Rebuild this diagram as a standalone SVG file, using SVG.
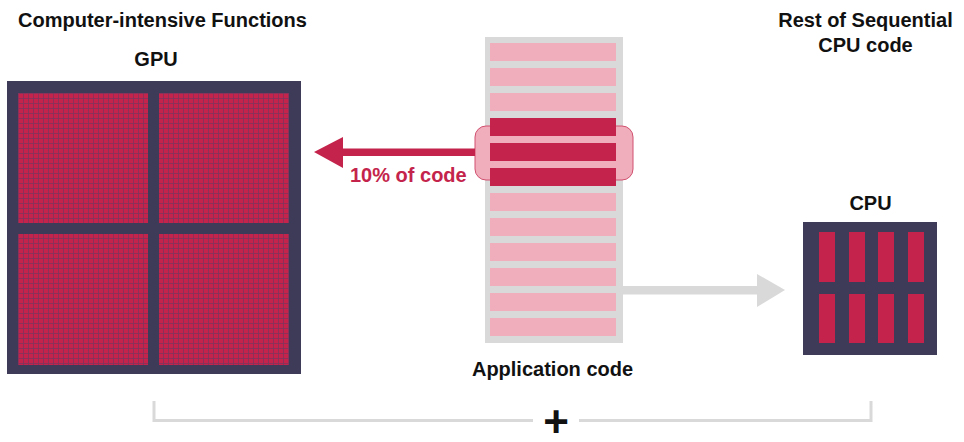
<svg xmlns="http://www.w3.org/2000/svg" width="964" height="442" viewBox="0 0 964 442">
<defs>
<style>
.lbl{font-family:"Liberation Sans",Arial,sans-serif;font-weight:bold;font-size:20px;fill:#111;}
.red{fill:#c4244b;}
.pink{fill:#f0aebd;}
.dark{fill:#3d3b58;}
</style>
<pattern id="grid" x="18" y="93" width="5" height="5" patternUnits="userSpaceOnUse">
<rect width="5" height="5" fill="#c4244b"/>
<path d="M0 0.5H5M0.5 0V5" stroke="#7a3560" stroke-width="1" fill="none" opacity="0.7"/>
</pattern>
</defs>
<rect width="964" height="442" fill="#fff"/>

<g id="gpu">
<rect class="dark" x="7" y="81" width="294" height="293"/>
<rect x="18" y="93" width="130" height="130" fill="url(#grid)"/>
<rect x="159" y="93" width="130" height="130" fill="url(#grid)"/>
<rect x="18" y="234" width="130" height="131" fill="url(#grid)"/>
<rect x="159" y="234" width="130" height="131" fill="url(#grid)"/>
<text class="lbl" x="18" y="26.5">Computer-intensive Functions</text>
<text class="lbl" x="156" y="66" text-anchor="middle">GPU</text>
</g>

<g id="app-code">
<rect x="485" y="37" width="138" height="306" fill="#d9d9d9"/>
<rect class="pink" x="490" y="43" width="126" height="18"/>
<rect class="pink" x="490" y="68" width="126" height="18"/>
<rect class="pink" x="490" y="93" width="126" height="18"/>
<rect x="475" y="126" width="158" height="54" rx="11" fill="#f0aebd" stroke="#d0506f" stroke-width="1"/>
<rect class="red" x="490" y="118" width="126" height="18"/>
<rect class="red" x="490" y="143" width="126" height="18"/>
<rect class="red" x="490" y="168" width="126" height="18"/>
<rect class="pink" x="490" y="193" width="126" height="18"/>
<rect class="pink" x="490" y="218" width="126" height="18"/>
<rect class="pink" x="490" y="243" width="126" height="18"/>
<rect class="pink" x="490" y="268" width="126" height="18"/>
<rect class="pink" x="490" y="293" width="126" height="18"/>
<rect class="pink" x="490" y="318" width="126" height="18"/>
<text class="lbl" x="552.5" y="376" text-anchor="middle">Application code</text>
</g>

<g id="cpu">
<rect class="dark" x="803" y="222" width="134" height="133"/>
<rect class="red" x="819" y="232" width="16" height="50"/>
<rect class="red" x="849" y="232" width="16" height="50"/>
<rect class="red" x="878" y="232" width="16" height="50"/>
<rect class="red" x="908" y="232" width="16" height="50"/>
<rect class="red" x="819" y="294" width="16" height="49"/>
<rect class="red" x="849" y="294" width="16" height="49"/>
<rect class="red" x="878" y="294" width="16" height="49"/>
<rect class="red" x="908" y="294" width="16" height="49"/>
<text class="lbl" x="870.5" y="210" text-anchor="middle">CPU</text>
<text class="lbl" x="865.5" y="26.5" text-anchor="middle">Rest of Sequential</text>
<text class="lbl" x="865.5" y="51.5" text-anchor="middle">CPU code</text>
</g>

<g id="connectors">
<rect class="red" x="340" y="148.5" width="135" height="7.5"/>
<polygon class="red" points="314,152 343,137 343,168"/>
<text x="350" y="182" font-family="Liberation Sans,Arial,sans-serif" font-weight="bold" font-size="20" fill="#c4244b">10% of code</text>
<rect x="623" y="286" width="136" height="8.5" fill="#d9d9d9"/>
<polygon points="785,290 757,274 757,307" fill="#d9d9d9"/>
<path d="M154 401V420.5H533M579 420.5H871V401" fill="none" stroke="#d9d9d9" stroke-width="3"/>
<text x="556" y="437" text-anchor="middle" font-family="Liberation Sans,Arial,sans-serif" font-weight="bold" font-size="44" fill="#111">+</text>
</g>
</svg>
